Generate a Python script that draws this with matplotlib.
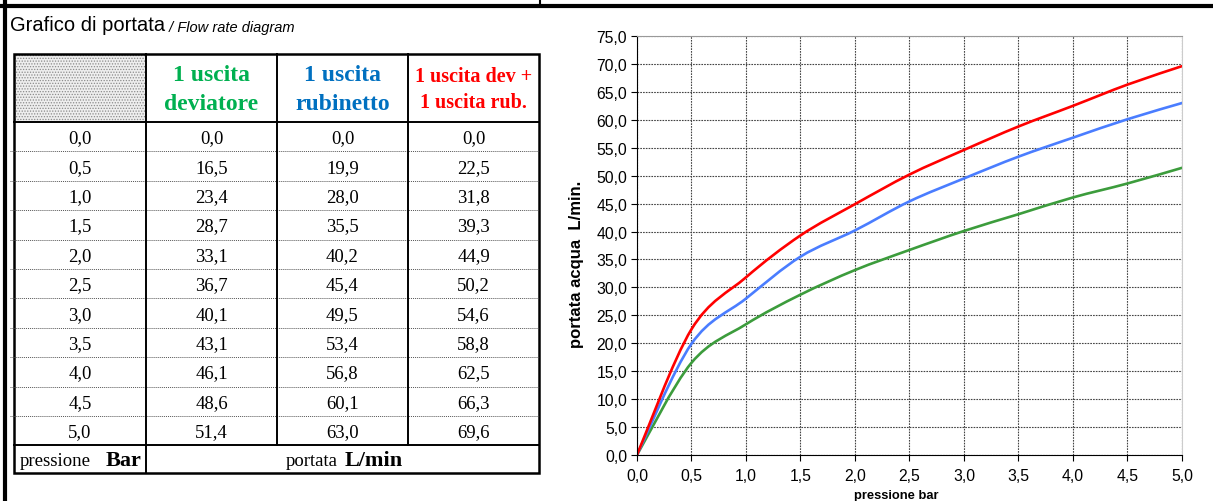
# flow rate chart + table (grafico di portata)

import matplotlib.pyplot as plt
from matplotlib.path import Path
from matplotlib.patches import PathPatch, Rectangle
from matplotlib.ticker import FuncFormatter, MultipleLocator

pressure = [0.0, 0.5, 1.0, 1.5, 2.0, 2.5, 3.0, 3.5, 4.0, 4.5, 5.0]
deviatore = [0.0, 16.5, 23.4, 28.7, 33.1, 36.7, 40.1, 43.1, 46.1, 48.6, 51.4]
rubinetto = [0.0, 19.9, 28.0, 35.5, 40.2, 45.4, 49.5, 53.4, 56.8, 60.1, 63.0]
dev_rub = [0.0, 22.5, 31.8, 39.3, 44.9, 50.2, 54.6, 58.8, 62.5, 66.3, 69.6]

headers = ["1 uscita\ndeviatore", "1 uscita\nrubinetto", "1 uscita dev +\n1 uscita rub."]
header_colors = ["#00B050", "#0070C0", "#FF0000"]
line_colors = ["#3C9C3C", "#4A7DFF", "#FF0000"]

SERIF = "Liberation Serif"
SANS = "Liberation Sans"


def comma(v):
    return f"{v:.1f}".replace(".", ",")


def smooth_path(xs, ys):
    # excel-like smoothed line: catmull-rom segments as cubic beziers
    pts = list(zip(xs, ys))
    verts = [pts[0]]
    codes = [Path.MOVETO]
    n = len(pts)
    for i in range(n - 1):
        p0 = pts[i - 1] if i > 0 else pts[i]
        p1 = pts[i]
        p2 = pts[i + 1]
        p3 = pts[i + 2] if i + 2 < n else pts[i + 1]
        c1 = (p1[0] + (p2[0] - p0[0]) / 6, p1[1] + (p2[1] - p0[1]) / 6)
        c2 = (p2[0] - (p3[0] - p1[0]) / 6, p2[1] - (p3[1] - p1[1]) / 6)
        verts += [c1, c2, p2]
        codes += [Path.CURVE4] * 3
    return Path(verts, codes)


fig = plt.figure(figsize=(12.13, 5.02), dpi=100)

# page layer in pixel coords
bg = fig.add_axes([0, 0, 1, 1])
bg.set_xlim(0, 1213)
bg.set_ylim(502, 0)
bg.axis("off")

# page frame lines
bg.plot([5, 5], [0, 502], color="black", lw=3)
bg.plot([0, 1213], [7, 7], color="black", lw=3)
bg.plot([540, 540], [0, 7], color="black", lw=1.5)

# title
t = bg.text(10, 31, "Grafico di portata", fontsize=14.5, family=SANS, va="baseline")
bg.annotate(" / Flow rate diagram", xy=(1, 0), xycoords=t, fontsize=10.5,
            family=SANS, style="italic", va="bottom")

# table geometry
col_x = [14, 146, 277, 408, 539]
head_top, head_bot = 55, 123
row_h = 29.4
foot_top = head_bot + row_h * len(pressure)
foot_bot = 474

plt.rcParams["hatch.linewidth"] = 0.6
bg.add_patch(Rectangle((col_x[0], head_top), col_x[1] - col_x[0], head_bot - head_top,
                       facecolor="#eeeeee", edgecolor="#8a8a8a", hatch="......", lw=0))
for i, h in enumerate(headers):
    cx = (col_x[i + 1] + col_x[i + 2]) / 2
    fs = 17 if i < 2 else 14.5
    ls = 1.45 if i < 2 else 1.35
    bg.text(cx, (head_top + head_bot) / 2 + 1, h, ha="center", va="center", family=SERIF,
            fontsize=fs, fontweight="bold", color=header_colors[i], linespacing=ls)

cols = [pressure, deviatore, rubinetto, dev_rub]
for r in range(len(pressure)):
    cy = head_bot + row_h * (r + 0.5)
    for c, vals in enumerate(cols):
        cx = (col_x[c] + col_x[c + 1]) / 2
        bg.text(cx, cy + 1, comma(vals[r]), ha="center", va="center", family=SERIF,
                fontsize=13.5)
    if r > 0:
        y = head_bot + row_h * r
        bg.plot([10, col_x[-1]], [y, y], color="#555555", lw=0.7, ls=(0, (1, 1)))

# footer
fy = foot_bot - 8
bg.text(20, fy, "pressione", ha="left", va="baseline", family=SERIF, fontsize=13.5)
bg.text(142, fy, "Bar", ha="right", va="baseline", family=SERIF, fontsize=16,
        fontweight="bold")
bg.text(338, fy, "portata", ha="right", va="baseline", family=SERIF, fontsize=13.5)
bg.text(345, fy, "L/min", ha="left", va="baseline", family=SERIF, fontsize=16,
        fontweight="bold")

# table lines
for y in [head_bot, foot_top]:
    bg.plot([col_x[0], col_x[-1]], [y, y], color="black", lw=1.4)
for x in col_x[1:-1]:
    bg.plot([x, x], [head_top, foot_top], color="black", lw=1.4)
bg.plot([col_x[1], col_x[1]], [foot_top, foot_bot], color="black", lw=1.4)
bg.add_patch(Rectangle((col_x[0], head_top), col_x[-1] - col_x[0], foot_bot - head_top,
                       fill=False, edgecolor="black", lw=1.8))

# chart
ax = fig.add_axes([0.5251, 0.0916, 0.4493, 0.8347])
ax.set_xlim(0, 5)
ax.set_ylim(0, 75)
ax.xaxis.set_major_locator(MultipleLocator(0.5))
ax.yaxis.set_major_locator(MultipleLocator(5))
fmt = FuncFormatter(lambda v, p: comma(v))
ax.xaxis.set_major_formatter(fmt)
ax.yaxis.set_major_formatter(fmt)
ax.grid(True, color="#444444", lw=0.8, ls=(0, (1.5, 1)))
ax.set_axisbelow(True)
for lab in ax.get_xticklabels() + ax.get_yticklabels():
    lab.set_family(SANS)
    lab.set_fontsize(11.3)
ax.tick_params(axis="x", direction="out", length=4, width=0.8, color="black", pad=5)
ax.tick_params(axis="y", direction="out", length=4, width=0.8, color="black", pad=3)
ax.spines["top"].set_color("#999999")
ax.spines["right"].set_color("#cccccc")
ax.spines["left"].set_color("black")
ax.spines["bottom"].set_color("black")

for ys, col in zip([deviatore, rubinetto, dev_rub], line_colors):
    ax.add_patch(PathPatch(smooth_path(pressure, ys), facecolor="none", edgecolor=col,
                           lw=1.9, capstyle="round"))

ax.set_ylabel("portata acqua  L/min.", family=SANS, fontsize=12, fontweight="bold",
              labelpad=4)
ax.set_xlabel("pressione bar", family=SANS, fontsize=9.3, fontweight="bold", labelpad=4)
ax.xaxis.set_label_coords(0.475, -0.08)
ax.yaxis.set_label_coords(-0.097, 0.458)

fig.savefig("out.png", dpi=100)
